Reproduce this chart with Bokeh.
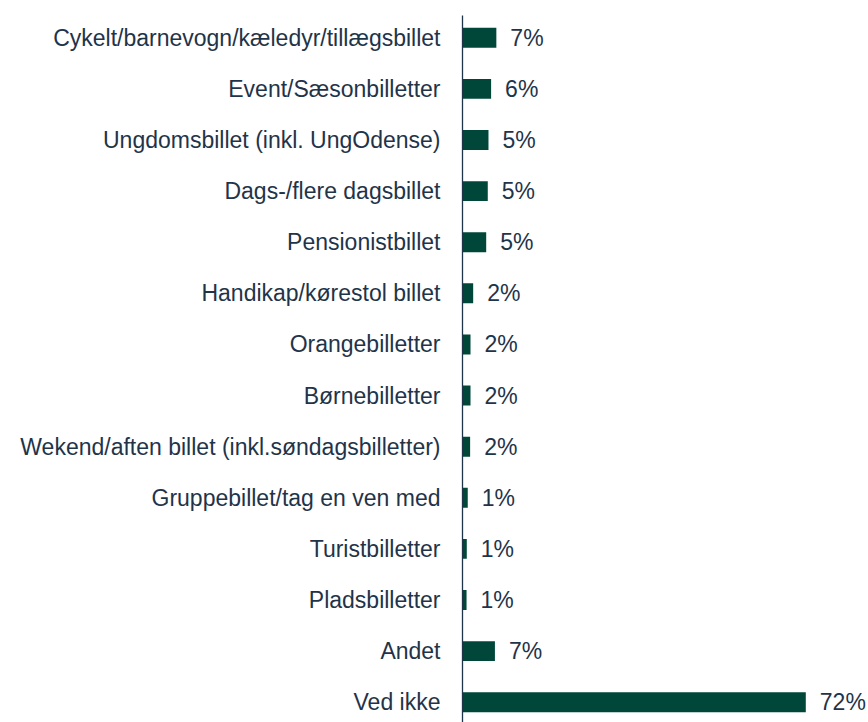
from bokeh.plotting import figure
from bokeh.models import ColumnDataSource, Range1d, FixedTicker
from bokeh.core.properties import value
from bokeh.embed import file_html
from bokeh.resources import INLINE

categories = [
    "Cykelt/barnevogn/kæledyr/tillægsbillet",
    "Event/Sæsonbilletter",
    "Ungdomsbillet (inkl. UngOdense)",
    "Dags-/flere dagsbillet",
    "Pensionistbillet",
    "Handikap/kørestol billet",
    "Orangebilletter",
    "Børnebilletter",
    "Wekend/aften billet (inkl.søndagsbilletter)",
    "Gruppebillet/tag en ven med",
    "Turistbilletter",
    "Pladsbilletter",
    "Andet",
    "Ved ikke",
]
values = [7.1, 6.0, 5.45, 5.3, 4.97, 2.24, 1.68, 1.68, 1.6, 1.1, 0.9, 0.85, 6.8, 72.0]
value_labels = ["7%", "6%", "5%", "5%", "5%", "2%", "2%", "2%", "2%", "1%", "1%", "1%", "7%", "72%"]

BAR = "#00473a"
TXT = "#1f3449"
FONT = "Liberation Sans"

pos = list(range(len(categories)))
src = ColumnDataSource(dict(y=pos, v=values, lab=value_labels))

p = figure(width=868, height=722, output_backend="svg", toolbar_location=None,
           x_range=Range1d(0, 406 / 4.768), y_range=Range1d(13.397, -0.436),
           min_border_left=462, min_border_right=0, min_border_top=15, min_border_bottom=0)

p.hbar(y="y", left=0, right="v", height=0.39, source=src, fill_color=BAR, line_color=None)
p.text(x="v", y="y", text="lab", source=src, x_offset=14, text_baseline="middle",
       text_align="left", text_font=value(FONT), text_font_size="23px", text_color=TXT)

p.xaxis.visible = False
p.xgrid.visible = False
p.ygrid.visible = False
p.outline_line_color = None

ya = p.yaxis[0]
ya.ticker = FixedTicker(ticks=pos)
ya.major_label_overrides = {i: c for i, c in enumerate(categories)}
ya.major_tick_line_color = None
ya.minor_tick_line_color = None
ya.axis_line_color = TXT
ya.axis_line_width = 1.3
ya.major_label_standoff = 16
ya.major_label_text_font = FONT
ya.major_label_text_font_size = "23px"
ya.major_label_text_color = TXT

open("out.html", "w").write(file_html(p, INLINE))
